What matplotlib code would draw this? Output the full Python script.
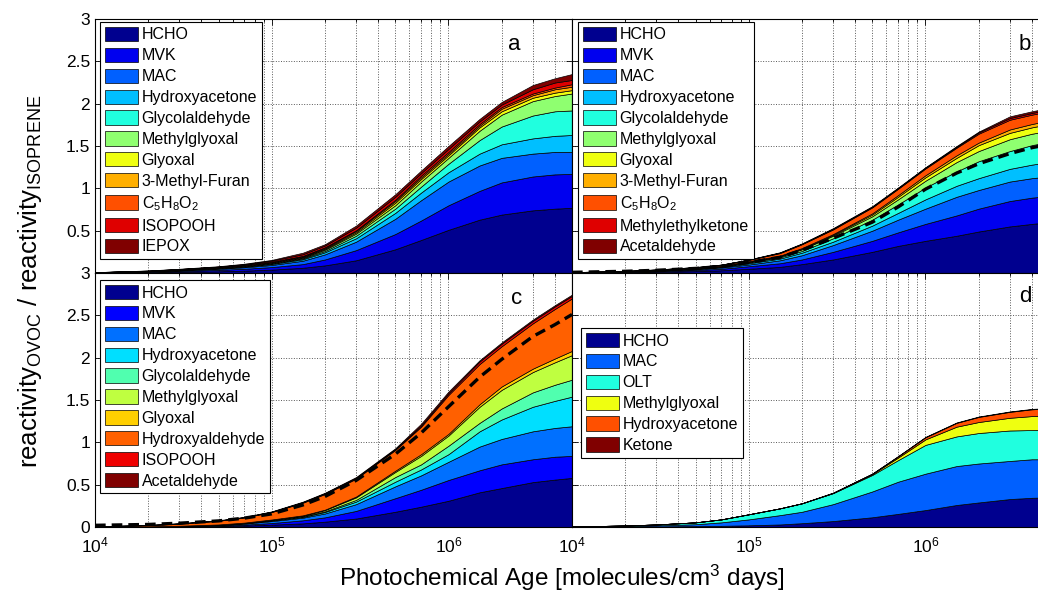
import numpy as np
import matplotlib
matplotlib.use('Agg')
import matplotlib.pyplot as plt
from matplotlib.ticker import FixedLocator, FixedFormatter, LogLocator, NullFormatter

plt.rcParams['font.family'] = ['Liberation Sans', 'DejaVu Sans']
plt.rcParams['mathtext.fontset'] = 'custom'
plt.rcParams['mathtext.rm'] = 'Liberation Sans'
plt.rcParams['mathtext.it'] = 'Liberation Sans:italic'
plt.rcParams['mathtext.bf'] = 'Liberation Sans:bold'

# photochemical age [molecules/cm3 days]
age = [1e4, 2e4, 3e4, 5e4, 7e4, 1e5, 1.5e5, 2e5, 3e5, 5e5, 7e5,
       1e6, 1.5e6, 2e6, 3e6, 4e6, 5e6]

# ---- panel a: cumulative tops of each stacked layer ----
a_labels = ['HCHO', 'MVK', 'MAC', 'Hydroxyacetone', 'Glycolaldehyde', 'Methylglyoxal',
            'Glyoxal', '3-Methyl-Furan', r'C$_5$H$_8$O$_2$', 'ISOPOOH', 'IEPOX']
a_hcho  = [0.003, 0.008, 0.013, 0.020, 0.028, 0.040, 0.062, 0.090, 0.150, 0.28, 0.39, 0.51, 0.63, 0.69, 0.74, 0.76, 0.77]
a_mvk   = [0.005, 0.014, 0.023, 0.037, 0.050, 0.070, 0.105, 0.160, 0.270, 0.46, 0.62, 0.80, 0.97, 1.07, 1.14, 1.165, 1.17]
a_mac   = [0.007, 0.019, 0.031, 0.050, 0.068, 0.095, 0.145, 0.220, 0.370, 0.64, 0.86, 1.08, 1.27, 1.36, 1.41, 1.43, 1.43]
a_hyac  = [0.008, 0.021, 0.035, 0.056, 0.076, 0.107, 0.162, 0.245, 0.410, 0.71, 0.95, 1.19, 1.41, 1.52, 1.59, 1.62, 1.63]
a_glyc  = [0.008, 0.022, 0.037, 0.059, 0.080, 0.113, 0.172, 0.260, 0.440, 0.76, 1.02, 1.29, 1.57, 1.73, 1.86, 1.91, 1.92]
a_mgly  = [0.008, 0.023, 0.039, 0.062, 0.084, 0.118, 0.180, 0.275, 0.465, 0.80, 1.08, 1.36, 1.68, 1.87, 2.03, 2.09, 2.12]
a_glyx  = [0.009, 0.024, 0.041, 0.065, 0.088, 0.124, 0.188, 0.285, 0.480, 0.83, 1.11, 1.39, 1.72, 1.91, 2.07, 2.13, 2.16]
a_3mf   = [0.009, 0.025, 0.043, 0.068, 0.092, 0.130, 0.196, 0.295, 0.495, 0.85, 1.13, 1.41, 1.74, 1.94, 2.10, 2.17, 2.20]
a_c5    = [0.009, 0.026, 0.044, 0.070, 0.095, 0.134, 0.203, 0.305, 0.505, 0.865, 1.15, 1.43, 1.76, 1.96, 2.12, 2.19, 2.23]
a_isop  = [0.010, 0.028, 0.047, 0.075, 0.102, 0.146, 0.222, 0.325, 0.535, 0.90, 1.18, 1.465, 1.79, 1.99, 2.17, 2.25, 2.28]
a_iepox = [0.010, 0.030, 0.050, 0.080, 0.110, 0.155, 0.240, 0.340, 0.560, 0.93, 1.21, 1.50, 1.82, 2.02, 2.22, 2.30, 2.35]

# ---- panel b ----
b_labels = ['HCHO', 'MVK', 'MAC', 'Hydroxyacetone', 'Glycolaldehyde', 'Methylglyoxal',
            'Glyoxal', '3-Methyl-Furan', r'C$_5$H$_8$O$_2$', 'Methylethylketone', 'Acetaldehyde']
b_hcho = [0.003, 0.008, 0.013, 0.022, 0.032, 0.050, 0.072, 0.105, 0.160, 0.25, 0.32, 0.38, 0.44, 0.49, 0.55, 0.58, 0.60]
b_mvk  = [0.005, 0.013, 0.021, 0.035, 0.050, 0.080, 0.115, 0.160, 0.250, 0.38, 0.48, 0.58, 0.68, 0.76, 0.85, 0.89, 0.91]
b_mac  = [0.006, 0.016, 0.027, 0.045, 0.065, 0.100, 0.150, 0.210, 0.330, 0.50, 0.63, 0.76, 0.90, 0.98, 1.08, 1.12, 1.14]
b_hyac = [0.007, 0.018, 0.030, 0.050, 0.072, 0.115, 0.170, 0.240, 0.370, 0.56, 0.71, 0.87, 1.03, 1.12, 1.23, 1.28, 1.31]
b_glyc = [0.007, 0.019, 0.032, 0.054, 0.078, 0.125, 0.185, 0.260, 0.410, 0.63, 0.81, 1.01, 1.20, 1.32, 1.44, 1.51, 1.55]
b_mgly = [0.008, 0.020, 0.034, 0.057, 0.082, 0.130, 0.195, 0.280, 0.440, 0.67, 0.87, 1.09, 1.31, 1.44, 1.58, 1.645, 1.68]
b_glyx = [0.008, 0.021, 0.035, 0.059, 0.085, 0.135, 0.200, 0.285, 0.450, 0.69, 0.90, 1.13, 1.36, 1.51, 1.655, 1.72, 1.76]
b_3mf  = [0.008, 0.022, 0.036, 0.060, 0.087, 0.140, 0.205, 0.295, 0.460, 0.705, 0.92, 1.155, 1.39, 1.54, 1.695, 1.76, 1.80]
b_c5   = [0.009, 0.024, 0.040, 0.067, 0.097, 0.155, 0.235, 0.340, 0.515, 0.775, 0.995, 1.235, 1.48, 1.645, 1.81, 1.87, 1.91]
b_mek  = [0.010, 0.025, 0.041, 0.069, 0.099, 0.158, 0.240, 0.345, 0.522, 0.782, 1.002, 1.243, 1.49, 1.66, 1.83, 1.89, 1.93]
b_acet = [0.010, 0.026, 0.042, 0.070, 0.100, 0.160, 0.245, 0.350, 0.530, 0.79, 1.01, 1.25, 1.50, 1.67, 1.85, 1.91, 1.95]
b_dash = [0.008, 0.020, 0.032, 0.054, 0.077, 0.125, 0.185, 0.270, 0.410, 0.60, 0.78, 0.99, 1.18, 1.29, 1.41, 1.48, 1.52]

# ---- panel c ----
c_labels = ['HCHO', 'MVK', 'MAC', 'Hydroxyacetone', 'Glycolaldehyde', 'Methylglyoxal',
            'Glyoxal', 'Hydroxyaldehyde', 'ISOPOOH', 'Acetaldehyde']
c_hcho  = [0.001, 0.003, 0.005, 0.010, 0.017, 0.028, 0.043, 0.063, 0.10, 0.18, 0.24, 0.31, 0.41, 0.46, 0.53, 0.56, 0.58]
c_mvk   = [0.002, 0.005, 0.008, 0.016, 0.028, 0.047, 0.079, 0.114, 0.19, 0.34, 0.44, 0.555, 0.67, 0.74, 0.80, 0.83, 0.84]
c_mac   = [0.002, 0.006, 0.011, 0.023, 0.040, 0.070, 0.110, 0.160, 0.27, 0.48, 0.61, 0.77, 0.95, 1.04, 1.13, 1.17, 1.19]
c_hyac  = [0.002, 0.007, 0.012, 0.026, 0.045, 0.079, 0.120, 0.177, 0.30, 0.535, 0.68, 0.86, 1.13, 1.27, 1.42, 1.49, 1.54]
c_glyc  = [0.003, 0.007, 0.013, 0.027, 0.047, 0.082, 0.126, 0.185, 0.32, 0.59, 0.74, 0.96, 1.23, 1.40, 1.59, 1.68, 1.74]
c_mgly  = [0.003, 0.008, 0.014, 0.029, 0.050, 0.086, 0.134, 0.200, 0.35, 0.65, 0.84, 1.08, 1.42, 1.62, 1.83, 1.945, 2.03]
c_glyx  = [0.003, 0.008, 0.015, 0.030, 0.052, 0.089, 0.138, 0.205, 0.36, 0.665, 0.86, 1.10, 1.45, 1.66, 1.87, 1.99, 2.08]
c_hyald = [0.007, 0.022, 0.040, 0.073, 0.112, 0.177, 0.287, 0.390, 0.57, 0.91, 1.185, 1.56, 1.925, 2.135, 2.405, 2.575, 2.70]
c_isop  = [0.0075, 0.023, 0.042, 0.076, 0.116, 0.181, 0.293, 0.398, 0.58, 0.92, 1.20, 1.58, 1.955, 2.165, 2.435, 2.605, 2.73]
c_acet  = [0.008, 0.025, 0.045, 0.080, 0.120, 0.185, 0.300, 0.405, 0.59, 0.93, 1.22, 1.60, 1.97, 2.18, 2.45, 2.62, 2.745]
c_dash  = [0.020, 0.030, 0.045, 0.072, 0.105, 0.155, 0.260, 0.360, 0.55, 0.86, 1.11, 1.42, 1.77, 1.98, 2.25, 2.39, 2.51]

# ---- panel d ----
d_labels = ['HCHO', 'MAC', 'OLT', 'Methylglyoxal', 'Hydroxyacetone', 'Ketone']
d_hcho = [0.003, 0.005, 0.007, 0.010, 0.014, 0.020, 0.030, 0.045, 0.070, 0.115, 0.155, 0.20, 0.26, 0.29, 0.33, 0.345, 0.35]
d_mac  = [0.005, 0.012, 0.020, 0.033, 0.055, 0.090, 0.140, 0.180, 0.270, 0.420, 0.535, 0.63, 0.72, 0.75, 0.78, 0.80, 0.80]
d_olt  = [0.006, 0.018, 0.030, 0.055, 0.090, 0.150, 0.220, 0.280, 0.400, 0.615, 0.790, 0.97, 1.07, 1.11, 1.14, 1.145, 1.15]
d_mgly = [0.006, 0.018, 0.030, 0.055, 0.090, 0.150, 0.220, 0.280, 0.402, 0.625, 0.820, 1.035, 1.185, 1.24, 1.29, 1.31, 1.32]
d_hyac = [0.006, 0.018, 0.030, 0.055, 0.090, 0.150, 0.220, 0.280, 0.405, 0.630, 0.835, 1.06, 1.23, 1.30, 1.36, 1.39, 1.40]
d_ket  = [0.006, 0.018, 0.030, 0.055, 0.090, 0.150, 0.220, 0.281, 0.406, 0.632, 0.838, 1.065, 1.235, 1.305, 1.365, 1.395, 1.405]


def matlab_jet64():
    """MATLAB's classic jet(64) colour table."""
    n = 16
    u = np.concatenate([np.arange(1, n + 1) / n, np.ones(n - 1), np.arange(n, 0, -1) / n])
    cmap = np.zeros((64, 3))
    for k in range(1, 65):
        r = u[k - 25] if k >= 25 else 0.0
        g = u[k - 9] if 9 <= k <= 55 else 0.0
        b = u[k + 7] if k <= 39 else 0.0
        cmap[k - 1] = (r, g, b)
    return cmap


JET = matlab_jet64()


def layer_colors(n):
    idx = np.floor(np.linspace(1, 64, n) + 0.5).astype(int) - 1
    return JET[idx]


W, H = 1038, 593
fig = plt.figure(figsize=(W / 100, H / 100), dpi=100)


def px_rect(left, top, right, bottom):
    return [left / W, 1 - bottom / H, (right - left) / W, (bottom - top) / H]


ax_a = fig.add_axes(px_rect(95, 19, 572, 273))
ax_c = fig.add_axes(px_rect(95, 273, 572, 527))
ax_b = fig.add_axes(px_rect(572, 19, 1049, 273))
ax_d = fig.add_axes(px_rect(572, 273, 1049, 527))


def draw(ax, bounds, labels, dash=None, leg_anchor=(0.01, 0.99), ylab=None, xlab=False):
    cols = layer_colors(len(bounds))
    lower = np.zeros(len(age))
    for top, lab, c in zip(bounds, labels, cols):
        ax.fill_between(age, lower, top, facecolor=c, edgecolor='black',
                        linewidth=0.5, label=lab, zorder=2)
        lower = np.asarray(top, dtype=float)
    if dash is not None:
        ax.plot(age, dash, color='black', lw=2.4, ls=(0, (3.2, 1.8)), zorder=3)
    ax.set_xscale('log')
    ax.set_xlim(1e4, 5e6)
    ax.set_ylim(0, 3)
    ax.set_axisbelow(True)
    ax.xaxis.set_major_locator(FixedLocator([1e4, 1e5, 1e6]))
    ax.xaxis.set_minor_locator(LogLocator(base=10, subs=np.arange(2, 10)))
    ax.xaxis.set_minor_formatter(NullFormatter())
    if xlab:
        ax.xaxis.set_major_formatter(FixedFormatter([r'$10^{4}$', r'$10^{5}$', r'$10^{6}$']))
    else:
        ax.xaxis.set_major_formatter(NullFormatter())
    ax.yaxis.set_major_locator(FixedLocator([0, 0.5, 1, 1.5, 2, 2.5, 3]))
    if ylab is not None:
        ax.yaxis.set_major_formatter(FixedFormatter(ylab))
    else:
        ax.yaxis.set_major_formatter(NullFormatter())
    ax.grid(True, which='major', axis='both', ls=':', color='0.35', lw=0.7)
    ax.grid(True, which='minor', axis='x', ls=':', color='0.35', lw=0.7)
    ax.tick_params(which='both', direction='in', top=True, right=True,
                   labelsize=12.5, width=0.6)
    ax.tick_params(axis='x', which='major', pad=6)
    ax.tick_params(which='major', length=4)
    ax.tick_params(which='minor', length=2)
    for s in ax.spines.values():
        s.set_linewidth(0.8)
    leg = ax.legend(loc='upper left', bbox_to_anchor=leg_anchor, borderaxespad=0,
                    fontsize=11.5, frameon=True, fancybox=False, framealpha=1,
                    edgecolor='black', handlelength=2.1, handleheight=1.0,
                    handletextpad=0.2, labelspacing=0.33, borderpad=0.3)
    leg.get_frame().set_linewidth(0.8)
    leg.set_zorder(5)


draw(ax_a, [a_hcho, a_mvk, a_mac, a_hyac, a_glyc, a_mgly, a_glyx, a_3mf, a_c5, a_isop, a_iepox],
     a_labels, leg_anchor=(0.0105, 0.988),
     ylab=['', '0.5', '1', '1.5', '2', '2.5', '3'])
draw(ax_b, [b_hcho, b_mvk, b_mac, b_hyac, b_glyc, b_mgly, b_glyx, b_3mf, b_c5, b_mek, b_acet],
     b_labels, dash=b_dash, leg_anchor=(0.0126, 0.988))
draw(ax_c, [c_hcho, c_mvk, c_mac, c_hyac, c_glyc, c_mgly, c_glyx, c_hyald, c_isop, c_acet],
     c_labels, dash=c_dash, leg_anchor=(0.0105, 0.972),
     ylab=['0', '0.5', '1', '1.5', '2', '2.5', '3'], xlab=True)
draw(ax_d, [d_hcho, d_mac, d_olt, d_mgly, d_hyac, d_ket],
     d_labels, leg_anchor=(0.019, 0.783), xlab=True)

for letter, (px, py) in {'a': (514, 45), 'b': (1025, 45), 'c': (517, 298), 'd': (1025, 297)}.items():
    fig.text(px / W, 1 - py / H, letter, ha='center', va='center', fontsize=16)

fig.text(562 / W, 1 - 578 / H, 'Photochemical Age [molecules/cm$^{3}$ days]',
         ha='center', va='center', fontsize=17.5)
fig.text(30 / W, 1 - 281 / H,
         r'reactivity$_{\mathrm{OVOC}}$ / reactivity$_{\mathrm{ISOPRENE}}$',
         ha='center', va='center', rotation=90, fontsize=18.5)

fig.savefig('out.png', dpi=100)
